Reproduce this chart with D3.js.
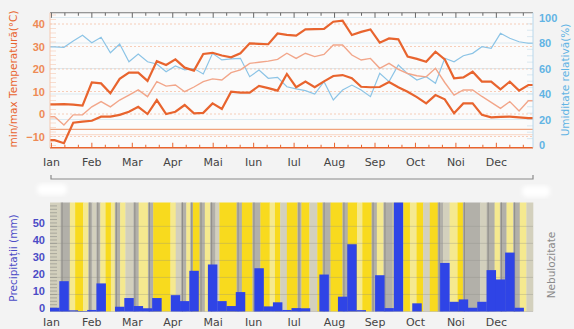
<!DOCTYPE html>
<html>
<head>
<meta charset="utf-8">
<script src="https://cdn.jsdelivr.net/npm/d3@7"></script>
<style>
  body { margin: 0; background: #f3f3f3; }
  svg { display: block; font-family: "DejaVu Sans", sans-serif; }
</style>
</head>
<body>
<svg id="chart" width="574" height="329"></svg>
<script>
// month labels
var months = ["Ian", "Feb", "Mar", "Apr", "Mai", "Iun", "Iul", "Aug", "Sep", "Oct", "Noi", "Dec"];

// weekly values (52 weeks)
var tempMax = [4.3, 4.4, 4.2, 3.7, 14.0, 13.6, 9.2, 15.6, 18.4, 18.4, 14.7, 23.5, 21.8, 24.3, 20.6, 19.3,
  26.7, 27.2, 26.0, 25.2, 27.0, 31.4, 31.2, 31.0, 35.8, 35.2, 34.8, 37.6, 37.7, 37.8, 41.0, 41.5,
  35.1, 36.5, 37.6, 31.7, 33.6, 33.2, 25.5, 24.5, 23.2, 27.7, 24.3, 15.9, 16.3, 18.8, 14.4, 14.4,
  11.0, 14.4, 10.4, 12.9];
var tempMean = [-1.2, -4.9, -0.4, -0.4, 3.2, 5.5, 3.2, 6.2, 8.4, 10.7, 7.7, 14.4, 12.4, 12.9, 9.9, 12.0,
  14.4, 15.6, 15.1, 18.4, 19.6, 22.5, 23.0, 23.5, 24.3, 27.0, 24.7, 27.0, 25.5, 26.5, 30.7, 30.7,
  26.2, 24.0, 24.7, 20.3, 22.5, 19.8, 18.0, 17.0, 16.5, 20.3, 14.0, 8.4, 10.7, 10.7, 7.8, 5.2,
  2.5, 5.5, 1.3, 5.9];
var tempMin = [-11.6, -13.0, -3.9, -3.4, -3.0, -1.2, -1.2, -0.4, 1.0, 3.2, 0.0, 6.2, 0.0, 1.0, 4.0, 0.3,
  0.5, 4.7, 2.2, 9.9, 9.5, 9.5, 12.5, 11.5, 10.4, 17.8, 11.9, 14.4, 11.9, 14.5, 16.9, 17.3,
  15.9, 12.1, 11.9, 12.0, 14.2, 11.9, 9.9, 7.5, 4.7, 8.4, 6.5, 0.3, 4.7, 4.7, -0.4, -1.5,
  -1.3, -1.2, -1.5, -1.8];
var humidity = [77, 76.6, 81.5, 86, 80.2, 84.5, 72.4, 79.2, 65.3, 71.4, 65.3, 63.5, 57.5, 62, 59, 60,
  55.7, 71.9, 66.7, 67.5, 68, 53.6, 58.8, 52.3, 53.1, 45.7, 44, 42.6, 40, 49.7, 35.3, 43.1,
  47, 43.1, 37.9, 56.2, 49.7, 62.7, 56, 51, 53.6, 48.4, 68, 65.3, 70, 71.9, 77.1, 75.8,
  87.6, 83.7, 81, 79.8];
var precip = [2.2, 17.8, 0.7, 0.3, 0.9, 16.5, 0, 2.8, 7.9, 3.2, 1.9, 7.9, 0, 9.6, 6.1, 23.9,
  0, 27.6, 6.1, 3.2, 11.4, 0, 25.4, 3.0, 5.4, 0.9, 2.0, 1.9, 0, 21.7, 0, 8.7,
  39.5, 0.8, 0, 21.3, 2.0, 70, 0, 4.8, 0, 0, 28.5, 5.7, 7.1, 2.2, 5.7, 24.3,
  18.8, 34.6, 2.2, 0];

// cloud cover: start day of each run and its level (0 sunny .. 3 overcast)
var cloudStart = [0, 8, 15, 19, 25, 29, 32, 35, 38, 42, 46, 49, 53, 57, 63, 67, 74, 78, 91, 95, 99, 103, 106, 108,
  113, 117, 121, 125, 128, 141, 145, 153, 159, 166, 170, 174, 179, 187, 190, 196, 202, 206, 212, 221, 225,
  232, 236, 243, 247, 252, 259, 267, 272, 277, 282, 287, 293, 297, 302, 308, 312, 325, 330, 336, 340, 345,
  350, 355, 360];
var cloudLevel = [2, 3, 1, 0, 1, 3, 2, 3, 1, 0, 1, 3, 1, 2, 3, 1, 3, 0, 1, 2, 3, 1, 3, 0,
  3, 1, 3, 2, 0, 3, 0, 3, 0, 1, 0, 2, 0, 3, 0, 2, 0, 3, 0, 3, 0,
  1, 0, 3, 1, 3, 1, 0, 1, 0, 2, 0, 3, 2, 1, 0, 3, 2, 3, 1, 3, 1,
  3, 1, 2];

var tempTicks = [-10, 0, 10, 20, 30, 40];
var humTicks = [0, 20, 40, 60, 80, 100];
var precipTicks = [0, 10, 20, 30, 40, 50];

var svg = d3.select("#chart");
var left = 50, right = 533;

var xw = d3.scaleLinear().domain([0, 52]).range([left, right]);
var xd = d3.scaleLinear().domain([0, 365]).range([left, right]);
var xm = d3.scaleBand().domain(months).range([51.4, 536.8]);

var yT = d3.scaleLinear().domain([-15, 45]).range([147.75, 12.75]);
var yH = d3.scaleLinear().domain([0, 100]).range([145, 17.5]);
var yP = d3.scaleLinear().domain([0, 64]).range([311.5, 202.5]);

var orange = "#e8642e", orangeTxt = "#ee8a55", blue = "#62b4e4", purple = "#4b4bc6";

// ---------- top chart ----------
var gTop = svg.append("g");
gTop.append("rect").attr("x", left).attr("y", yT(45)).attr("width", right - left).attr("height", yT(-15) - yT(45))
  .attr("fill", "#fbfbfb");

// humidity grid
gTop.selectAll(".hgrid").data(humTicks.slice(1)).enter().append("line")
  .attr("x1", left).attr("x2", right).attr("y1", yH).attr("y2", yH)
  .attr("stroke", "#d6e6ef").attr("stroke-width", 0.8);
// temperature grid
gTop.selectAll(".tgrid").data(tempTicks).enter().append("line")
  .attr("x1", left).attr("x2", right).attr("y1", yT).attr("y2", yT)
  .attr("stroke", "#f6c3a8").attr("stroke-width", 0.8).attr("stroke-dasharray", "2,2");
// frost lines
gTop.append("line").attr("x1", left).attr("x2", right).attr("y1", yT(-6.8)).attr("y2", yT(-6.8))
  .attr("stroke", "#f0a27c").attr("stroke-width", 1.2);
gTop.append("line").attr("x1", left).attr("x2", right).attr("y1", yT(-9.2)).attr("y2", yT(-9.2))
  .attr("stroke", "#f8d6c4").attr("stroke-width", 1);

// minor ticks left (every 2 deg) and right (every 5 %)
gTop.selectAll(".tmin").data(d3.range(-14, 45, 2)).enter().append("line")
  .attr("x1", left).attr("x2", left + 6).attr("y1", yT).attr("y2", yT)
  .attr("stroke", "#f6c9b2").attr("stroke-width", 0.6);
gTop.selectAll(".hmin").data(d3.range(5, 100, 5)).enter().append("line")
  .attr("x1", right - 6).attr("x2", right).attr("y1", yH).attr("y2", yH)
  .attr("stroke", "#c4dcea").attr("stroke-width", 0.6);

// lines: first value from left edge, last value to right edge
function weekLine(vals, y) {
  var pts = [[0, vals[0]]].concat(vals.map(function(v, i) { return [i + 0.5, v]; }), [[52, vals[vals.length - 1]]]);
  return d3.line().x(function(d) { return xw(d[0]); }).y(function(d) { return y(d[1]); })(pts);
}
gTop.append("path").attr("d", weekLine(humidity, yH)).attr("fill", "none").attr("stroke", "#8cc4e6").attr("stroke-width", 1.2);
gTop.append("path").attr("d", weekLine(tempMean, yT)).attr("fill", "none").attr("stroke", "#f2a68a").attr("stroke-width", 1.4);
gTop.append("path").attr("d", weekLine(tempMax, yT)).attr("fill", "none").attr("stroke", orange).attr("stroke-width", 2.2);
gTop.append("path").attr("d", weekLine(tempMin, yT)).attr("fill", "none").attr("stroke", orange).attr("stroke-width", 2.2);

// axes frame
var dekads = d3.range(0, 37).map(function(k) { return xm.range()[0] + k * xm.bandwidth() / 3; })
  .filter(function(x) { return x <= right; });
gTop.append("line").attr("x1", left).attr("x2", right).attr("y1", yT(45)).attr("y2", yT(45)).attr("stroke", "#777").attr("stroke-width", 1.2);
gTop.selectAll(".ttick").data(dekads).enter().append("line")
  .attr("x1", function(d) { return d; }).attr("x2", function(d) { return d; })
  .attr("y1", yT(45)).attr("y2", function(d, i) { return yT(45) + (i % 3 == 0 ? 5 : 3); })
  .attr("stroke", "#666").attr("stroke-width", 1);
gTop.append("line").attr("x1", left).attr("x2", right).attr("y1", yT(-15)).attr("y2", yT(-15)).attr("stroke", orange).attr("stroke-width", 1.5);
gTop.selectAll(".btick").data(dekads).enter().append("line")
  .attr("x1", function(d) { return d; }).attr("x2", function(d) { return d; })
  .attr("y1", yT(-15)).attr("y2", function(d, i) { return yT(-15) - (i % 3 == 0 ? 5 : 3); })
  .attr("stroke", orange).attr("stroke-width", 1);
gTop.append("line").attr("x1", left).attr("x2", left).attr("y1", yT(45)).attr("y2", yT(-15)).attr("stroke", "#f5c8b0");
gTop.append("line").attr("x1", right).attr("x2", right).attr("y1", yT(45)).attr("y2", yT(-15)).attr("stroke", "#b9d8ec");

var axT = gTop.append("g").attr("transform", "translate(" + left + ",0)")
  .call(d3.axisLeft(yT).tickValues(tempTicks).tickSize(0).tickPadding(5));
axT.select(".domain").remove();
axT.selectAll("text").attr("fill", orangeTxt).style("font-size", "11px").style("font-weight", "bold");

var axH = gTop.append("g").attr("transform", "translate(" + right + ",0)")
  .call(d3.axisRight(yH).tickValues(humTicks).tickSize(0).tickPadding(6));
axH.select(".domain").remove();
axH.selectAll("text").attr("fill", blue).style("font-size", "11px").style("font-weight", "bold");

gTop.append("text").attr("transform", "translate(17," + 79 + ") rotate(-90)")
  .attr("text-anchor", "middle").attr("fill", orange).style("font-size", "10.5px")
  .text("min/max Temperatură(°C)");
gTop.append("text").attr("transform", "translate(569," + 80 + ") rotate(-90)")
  .attr("text-anchor", "middle").attr("fill", blue).style("font-size", "10.5px")
  .text("Umiditate relativă(%)");

gTop.selectAll(".mlab").data(months).enter().append("text")
  .attr("x", function(d) { return xm(d); }).attr("y", 166)
  .attr("text-anchor", "middle").attr("fill", "#444").style("font-size", "11px")
  .text(function(d) { return d; });

// range bracket
svg.append("path")
  .attr("d", d3.line()([[left + 1, 175], [left + 1, 179], [right, 179], [right, 175]]))
  .attr("fill", "none").attr("stroke", "#8a8a8a").attr("stroke-width", 1.2);

// blurred placeholders
var defs = svg.append("defs");
defs.append("filter").attr("id", "blur").append("feGaussianBlur").attr("stdDeviation", 2);
svg.append("rect").attr("x", 37).attr("y", 184).attr("width", 30).attr("height", 11).attr("rx", 5)
  .attr("fill", "#fff").attr("filter", "url(#blur)");
svg.append("rect").attr("x", 522).attr("y", 186).attr("width", 28).attr("height", 11).attr("rx", 5)
  .attr("fill", "#fff").attr("filter", "url(#blur)");

// ---------- bottom chart ----------
var gBot = svg.append("g");
var cloudColor = ["#f8da1e", "#f5e98f", "#d3d0bd", "#b2b0a9"];
gBot.selectAll(".cloud").data(cloudStart).enter().append("rect")
  .attr("x", function(d) { return xd(d); })
  .attr("width", function(d, i) { return xd(i + 1 < cloudStart.length ? cloudStart[i + 1] : 365) - xd(d) + 0.3; })
  .attr("y", yP(64)).attr("height", yP(0) - yP(64))
  .attr("fill", function(d, i) { return cloudColor[cloudLevel[i]]; });
// darker day edge inside overcast runs
gBot.selectAll(".cloudEdge").data(cloudStart.filter(function(d, i) { return cloudLevel[i] == 3; })).enter().append("line")
  .attr("x1", function(d) { return xd(d) + 1.5; }).attr("x2", function(d) { return xd(d) + 1.5; })
  .attr("y1", yP(64)).attr("y2", yP(0))
  .attr("stroke", "#8f8d88").attr("stroke-width", 1);

gBot.selectAll(".pgrid").data(precipTicks).enter().append("line")
  .attr("x1", left).attr("x2", right).attr("y1", yP).attr("y2", yP)
  .attr("stroke", "#8d8d86").attr("stroke-opacity", 0.4).attr("stroke-width", 0.8);
gBot.selectAll(".pmin").data(d3.range(2, 64, 2)).enter().append("line")
  .attr("x1", left).attr("x2", left + 7).attr("y1", yP).attr("y2", yP)
  .attr("stroke", "#8d8d86").attr("stroke-width", 0.6);

gBot.selectAll(".bar").data(precip).enter().append("rect")
  .attr("x", function(d, i) { return xw(i); })
  .attr("width", xw(1) - xw(0) + 0.2)
  .attr("y", function(d) { return yP(Math.min(d, 64)); })
  .attr("height", function(d) { return yP(0) - yP(Math.min(d, 64)); })
  .attr("fill", "#2f44e6");

var axP = gBot.append("g").attr("transform", "translate(" + left + ",0)")
  .call(d3.axisLeft(yP).tickValues(precipTicks).tickSize(0).tickPadding(5));
axP.select(".domain").remove();
axP.selectAll("text").attr("fill", purple).attr("dy", 0).style("font-size", "11px").style("font-weight", "bold");

gBot.append("text").attr("transform", "translate(17,258) rotate(-90)")
  .attr("text-anchor", "middle").attr("fill", purple).style("font-size", "10.5px")
  .text("Precipitații (mm)");
gBot.append("text").attr("transform", "translate(555,265) rotate(-90)")
  .attr("text-anchor", "middle").attr("fill", "#8a8a8a").style("font-size", "10.5px")
  .text("Nebulozitate");

gBot.selectAll(".mlab2").data(months).enter().append("text")
  .attr("x", function(d) { return xm(d); }).attr("y", 326)
  .attr("text-anchor", "middle").attr("fill", "#444").style("font-size", "11px")
  .text(function(d) { return d; });
</script>
</body>
</html>
